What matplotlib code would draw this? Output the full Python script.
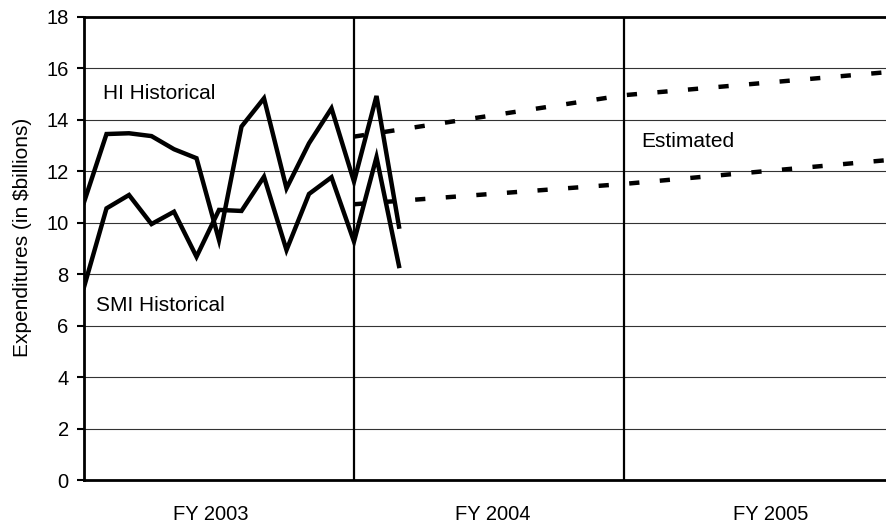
import matplotlib
matplotlib.use("Agg")
import matplotlib.pyplot as plt
import matplotlib.transforms as mtransforms

plt.rcParams['font.family'] = ['Liberation Sans', 'DejaVu Sans']

# ---- data ----
hist_months = list(range(15))
hi_hist = [10.8, 13.45, 13.48, 13.37, 12.86, 12.51, 9.33, 13.74, 14.84, 11.34, 13.09, 14.45, 11.6, 14.93, 9.85]
smi_hist = [7.5, 10.56, 11.08, 9.95, 10.43, 8.68, 10.5, 10.46, 11.79, 8.94, 11.12, 11.77, 9.27, 12.55, 8.32]

est_months = [12, 24, 36]
hi_est = [13.35, 14.96, 15.88]
smi_est = [10.72, 11.51, 12.46]

year_boundaries = [12, 24]
fy_labels = ["FY 2003", "FY 2004", "FY 2005"]
fy_label_x = [5.64, 18.18, 30.53]
y_ticks = list(range(0, 19, 2))

# ---- figure ----
fig = plt.figure(figsize=(8.86, 5.25), dpi=100)
ax = fig.add_axes([84/886, 1-480/525, 810/886, 463/525])
ax.set_xlim(0, 36)
ax.set_ylim(0, 18)

for y in y_ticks[1:-1]:
    ax.axhline(y, color='#333333', lw=0.8, zorder=1)
for xb in year_boundaries:
    ax.axvline(xb, color='black', lw=1.6, zorder=2)

ax.plot(hist_months, hi_hist, color='black', lw=3.2, solid_joinstyle='miter', zorder=3)
ax.plot(hist_months, smi_hist, color='black', lw=3.2, solid_joinstyle='miter', zorder=3)
for est in (hi_est, smi_est):
    ln, = ax.plot(est_months, est, color='black', lw=3.2, zorder=3, dash_capstyle='butt')
    ln.set_dashes((2.3, 4.6))

for side in ['left', 'bottom', 'top']:
    ax.spines[side].set_linewidth(2.0)
    ax.spines[side].set_color('black')
ax.spines['right'].set_visible(False)

ax.set_yticks(y_ticks)
ax.set_yticklabels([str(v) for v in y_ticks])
ax.tick_params(axis='y', direction='out', length=5, width=1.5, pad=6, labelsize=14.5)
ax.set_xticks([])

trans = mtransforms.blended_transform_factory(ax.transData, ax.transAxes)
for lab, xx in zip(fy_labels, fy_label_x):
    ax.text(xx, -40/463, lab, transform=trans, ha='center', va='baseline', fontsize=14.5)

ax.text(0.84, 14.81, "HI Historical", fontsize=15, va='baseline', ha='left')
ax.text(0.53, 6.57, "SMI Historical", fontsize=15, va='baseline', ha='left')
ax.text(24.76, 12.95, "Estimated", fontsize=15, va='baseline', ha='left')

fig.text(22.5/886, 1-237/525, "Expenditures (in $billions)", rotation=90,
         ha='center', va='center', fontsize=15)

fig.savefig("out.png", dpi=100)
